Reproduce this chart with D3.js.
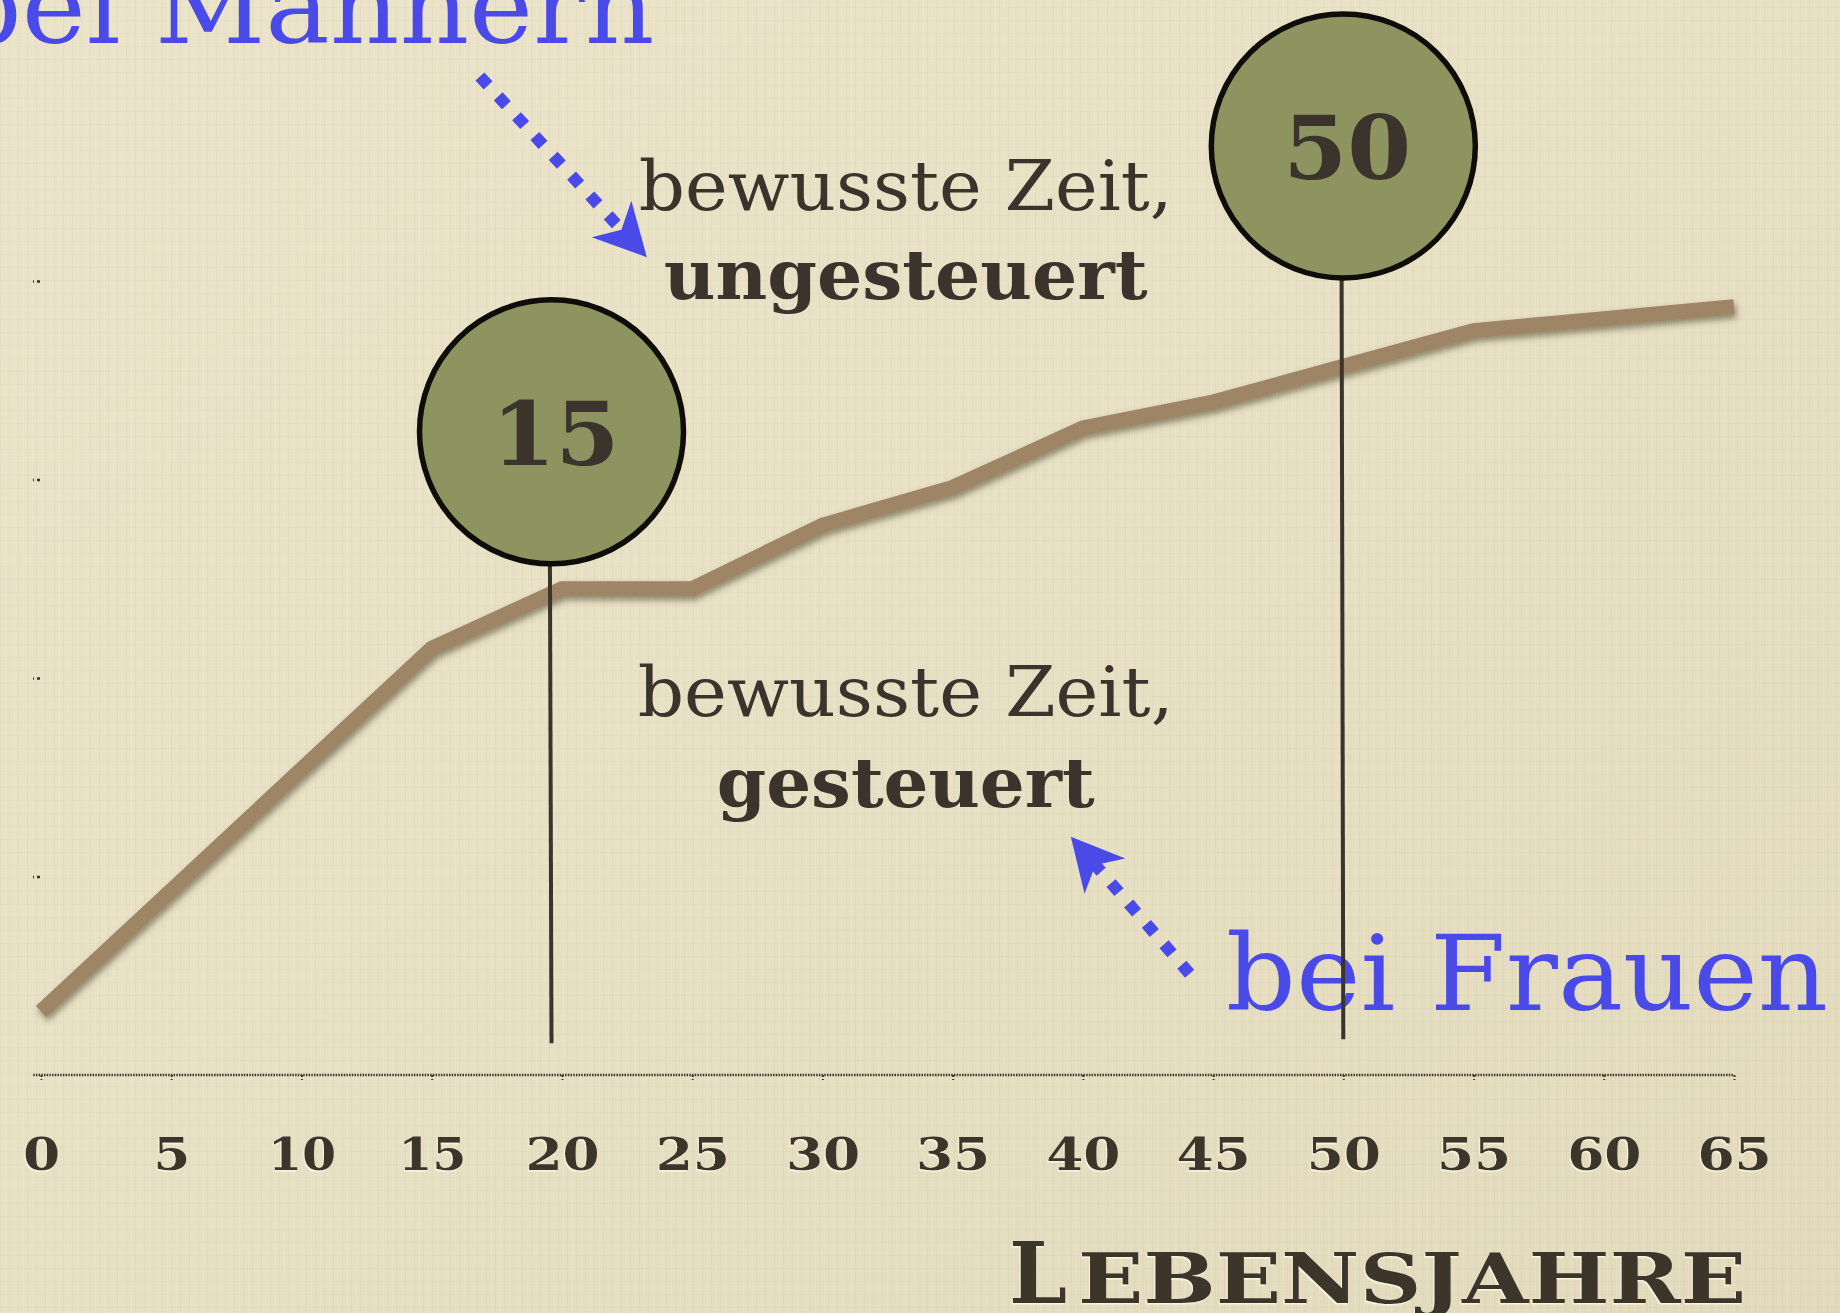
<!DOCTYPE html>
<html>
<head>
<meta charset="utf-8">
<script src="https://cdn.jsdelivr.net/npm/d3@7"></script>
<style>
  body { margin: 0; overflow: hidden; background: #e7dfc4; }
</style>
</head>
<body>
<div id="chart"></div>
<script>
// Lebensjahre (x) and the level of the brown curve
const ages = [0, 5, 10, 15, 20, 25, 30, 35, 40, 45, 50, 55, 60, 65];
const levels = [0.32, 0.93, 1.54, 2.15, 2.45, 2.45, 2.77, 2.96, 3.26, 3.39, 3.57, 3.75, 3.81, 3.87];
const tickLabels = ["0", "5", "10", "15", "20", "25", "30", "35", "40", "45", "50", "55", "60", "65"];
const yTicks = [1, 2, 3, 4];

// the two round markers
const markerLabels = ["15", "50"];
const markerAges = [19.6, 50];
const markerLevels = [3.24, 4.68];
const markerFoot = [0.16, 0.18];

const W = 1840, H = 1313;
const ink = "#3b342c", blue = "#4a4ae8";

const svg = d3.select("#chart")
  .append("svg")
    .attr("width", W)
    .attr("height", H);

const defs = svg.append("defs");

// paper background
const grad = defs.append("linearGradient")
    .attr("id", "paper")
    .attr("x1", 0).attr("y1", 0).attr("x2", 1).attr("y2", 1);
grad.append("stop").attr("offset", 0).attr("stop-color", "#ebe4ca");
grad.append("stop").attr("offset", 0.5).attr("stop-color", "#e8e0c4");
grad.append("stop").attr("offset", 1).attr("stop-color", "#e3dabd");

const pat = defs.append("pattern")
    .attr("id", "grain")
    .attr("width", 9).attr("height", 13)
    .attr("patternUnits", "userSpaceOnUse");
pat.append("rect").attr("x", 0).attr("width", 1).attr("height", 13).attr("fill", "rgba(140,120,80,0.05)");
pat.append("rect").attr("x", 5).attr("width", 1).attr("height", 13).attr("fill", "rgba(255,255,255,0.10)");
pat.append("rect").attr("y", 7).attr("width", 9).attr("height", 1).attr("fill", "rgba(140,120,80,0.03)");

const shadow = defs.append("filter")
    .attr("id", "shadow")
    .attr("x", "-5%").attr("y", "-20%").attr("width", "110%").attr("height", "140%");
shadow.append("feDropShadow")
    .attr("dx", 2).attr("dy", 4).attr("stdDeviation", 3)
    .attr("flood-color", "#4a3f2a").attr("flood-opacity", 0.55);

const emboss = defs.append("filter").attr("id", "emboss");
emboss.append("feDropShadow")
    .attr("dx", -1).attr("dy", 1.5).attr("stdDeviation", 0.3)
    .attr("flood-color", "#fffbe8").attr("flood-opacity", 0.8);

svg.append("rect").attr("width", W).attr("height", H).attr("fill", "url(#paper)");
svg.append("rect").attr("width", W).attr("height", H).attr("fill", "url(#grain)");

// scales
const x = d3.scaleLinear().domain([0, 65]).range([41, 1734]);
const y = d3.scaleLinear().domain([0, 4]).range([1075, 281]);

// x axis: dotted base line, tiny ticks, wide numerals
const xAxis = svg.append("g")
    .attr("transform", "translate(0," + y(0) + ")")
    .call(d3.axisBottom(x)
      .tickValues(ages)
      .tickFormat((d, i) => tickLabels[i])
      .tickSize(5)
      .tickSizeOuter(0)
      .tickPadding(58));

xAxis.select(".domain").remove();
xAxis.append("line")
    .attr("x1", x(-0.3)).attr("x2", x(65))
    .attr("stroke", ink)
    .attr("stroke-width", 2.5)
    .attr("stroke-dasharray", "1.5,1.2");
xAxis.selectAll(".tick line")
    .attr("stroke", ink)
    .attr("stroke-width", 2)
    .attr("stroke-dasharray", "2,2");
xAxis.selectAll(".tick text")
    .attr("fill", ink)
    .attr("font-family", "DejaVu Serif")
    .attr("font-weight", "bold")
    .attr("font-size", 45)
    .attr("filter", "url(#emboss)")
    .attr("textLength", d => String(d).split("").reduce((s, c) => s + (c === "1" ? 31 : 37), 0))
    .attr("lengthAdjust", "spacingAndGlyphs");

// y axis: only small dotted ticks
const yAxis = svg.append("g")
    .attr("transform", "translate(" + (x(0) - 1) + ",0)")
    .call(d3.axisLeft(y).tickValues(yTicks).tickSize(7).tickFormat(""));
yAxis.select(".domain").remove();
yAxis.selectAll(".tick line")
    .attr("stroke", ink)
    .attr("stroke-width", 2.5)
    .attr("stroke-dasharray", "3,3");

// axis title, small caps built from two sizes
svg.append("text")
    .attr("x", 1009).attr("y", 1303)
    .attr("fill", ink)
    .attr("font-family", "DejaVu Serif")
    .attr("font-weight", "bold")
    .attr("font-size", 84)
    .attr("textLength", 58)
    .attr("lengthAdjust", "spacingAndGlyphs")
    .attr("filter", "url(#emboss)")
    .text("L");
svg.append("text")
    .attr("x", 1078).attr("y", 1303)
    .attr("fill", ink)
    .attr("font-family", "DejaVu Serif")
    .attr("font-weight", "bold")
    .attr("font-size", 70)
    .attr("textLength", 668)
    .attr("lengthAdjust", "spacingAndGlyphs")
    .attr("filter", "url(#emboss)")
    .text("EBENSJAHRE");

// the curve
const line = d3.line()
    .x((d, i) => x(ages[i]))
    .y(d => y(d));

svg.append("path")
    .datum(levels)
    .attr("d", line)
    .attr("fill", "none")
    .attr("stroke", "#9d8565")
    .attr("stroke-width", 15)
    .attr("stroke-linejoin", "miter")
    .attr("filter", "url(#shadow)");

// annotation texts
const textFont = "DejaVu Serif";
function label(str, ax, av, size, weight, len, color) {
  return svg.append("text")
      .attr("x", x(ax)).attr("y", y(av))
      .attr("text-anchor", "middle")
      .attr("font-family", textFont)
      .attr("font-size", size)
      .attr("font-weight", weight)
      .attr("fill", color)
      .attr("textLength", len)
      .attr("lengthAdjust", "spacingAndGlyphs")
      .text(str);
}
label("bewusste Zeit,", 33.2, 4.36, 70, "normal", 534, ink);
label("ungesteuert", 33.2, 3.91, 70, "bold", 484, ink);
label("bewusste Zeit,", 33.2, 1.81, 70, "normal", 536, ink);
label("gesteuert", 33.2, 1.35, 70, "bold", 378, ink);

// blue notes
svg.append("text")
    .attr("x", x(45.5)).attr("y", y(0.325))
    .attr("font-family", textFont)
    .attr("font-size", 104)
    .attr("fill", blue)
    .attr("textLength", 602)
    .attr("lengthAdjust", "spacingAndGlyphs")
    .text("bei Frauen");
svg.append("text")
    .attr("x", x(-3.4)).attr("y", y(5.2))
    .attr("font-family", textFont)
    .attr("font-size", 104)
    .attr("fill", blue)
    .attr("textLength", 702)
    .attr("lengthAdjust", "spacingAndGlyphs")
    .text("bei Männern");

// dotted arrows
function arrow(a0, v0, a1, v1) {
  const x0 = x(a0), y0 = y(v0), x1 = x(a1), y1 = y(v1);
  const ang = Math.atan2(y1 - y0, x1 - x0);
  const c = Math.cos(ang), s = Math.sin(ang);
  const L = 52, Wd = 27;
  const pt = (u, w) => [x1 + u * c - w * s, y1 + u * s + w * c];
  const notch = pt(-0.72 * L, 0);
  svg.append("line")
      .attr("x1", x0).attr("y1", y0)
      .attr("x2", notch[0]).attr("y2", notch[1])
      .attr("stroke", blue)
      .attr("stroke-width", 12)
      .attr("stroke-dasharray", "12,15");
  svg.append("polygon")
      .attr("points", [pt(0, 0), pt(-L, Wd), notch, pt(-L, -Wd)].map(p => p.join(",")).join(" "))
      .attr("fill", blue);
}
arrow(16.85, 5.03, 23.26, 4.12);
arrow(44.1, 0.51, 39.54, 1.2);

// pins with round labels
markerLabels.forEach((lab, i) => {
  const cx = x(markerAges[i]), cy = y(markerLevels[i]);
  svg.append("line")
      .attr("x1", cx - 2).attr("y1", cy)
      .attr("x2", cx).attr("y2", y(markerFoot[i]))
      .attr("stroke", ink)
      .attr("stroke-width", 4);
  svg.append("circle")
      .attr("cx", cx).attr("cy", cy)
      .attr("r", 132)
      .attr("fill", "#8e9460")
      .attr("stroke", "#0f0d0a")
      .attr("stroke-width", 5.5);
  svg.append("text")
      .attr("x", cx + 4).attr("y", cy + 33)
      .attr("text-anchor", "middle")
      .attr("font-family", "DejaVu Serif")
      .attr("font-weight", "bold")
      .attr("font-size", 88)
      .attr("fill", ink)
      .attr("textLength", 128)
      .attr("lengthAdjust", "spacingAndGlyphs")
      .text(lab);
});
</script>
</body>
</html>
